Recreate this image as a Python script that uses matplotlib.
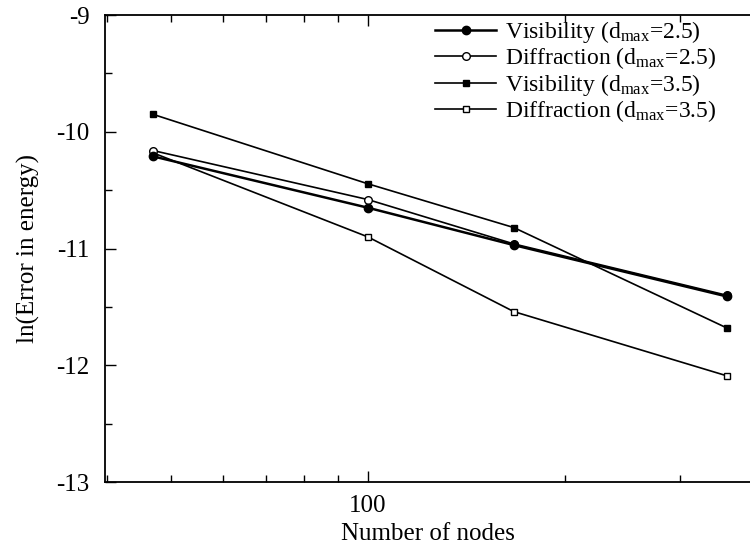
import matplotlib
matplotlib.use('Agg')
import matplotlib.pyplot as plt
from matplotlib.ticker import FixedLocator, NullFormatter

plt.rcParams['font.family'] = ['Liberation Serif', 'DejaVu Serif']
plt.rcParams['mathtext.fontset'] = 'custom'
plt.rcParams['mathtext.rm'] = 'Liberation Serif'
plt.rcParams['mathtext.it'] = 'Liberation Serif:italic'

# values
nodes = [47, 100, 167, 353]
vis_25 = [-10.21, -10.65, -10.97, -11.41]
diff_25 = [-10.16, -10.58, -10.96, -11.40]
vis_35 = [-9.85, -10.445, -10.82, -11.68]
diff_35 = [-10.18, -10.90, -11.54, -12.09]

labels = [r'Visibility (d$_{\rm max}$=2.5)',
          r'Diffraction (d$_{\rm max}$=2.5)',
          r'Visibility (d$_{\rm max}$=3.5)',
          r'Diffraction (d$_{\rm max}$=3.5)']

fig = plt.figure(figsize=(7.5, 5.48), dpi=100)
# frame runs off the right edge of the picture, as in the scan
ax = fig.add_axes([0.14, 0.1204, 0.86, 0.852])

ax.plot(nodes, vis_25, '-', color='black', lw=1.8, marker='o', ms=6, zorder=5, label=labels[0])
ax.plot(nodes, diff_25, '-', color='black', lw=1.2, marker='o', ms=5.5,
        mfc='white', mew=1.0, zorder=4, label=labels[1])
ax.plot(nodes, vis_35, '-', color='black', lw=1.2, marker='s', ms=4, zorder=3, label=labels[2])
ax.plot(nodes, diff_35, '-', color='black', lw=1.2, marker='s', ms=5,
        mfc='white', mew=1.0, zorder=3, label=labels[3])

ax.set_xscale('log')
ax.set_xlim(39.7, 383)
ax.set_ylim(-13, -9)
ax.xaxis.set_major_locator(FixedLocator([100]))
ax.xaxis.set_minor_locator(FixedLocator([40, 50, 60, 70, 80, 90, 200, 300]))
ax.xaxis.set_major_formatter(plt.FixedFormatter(['100']))
ax.xaxis.set_minor_formatter(NullFormatter())
ax.set_yticks([-13, -12, -11, -10, -9])
ax.set_yticklabels(['-13', '-12', '-11', '-10', '-9'])
ax.yaxis.set_minor_locator(FixedLocator([-12.5, -11.5, -10.5, -9.5]))

ax.tick_params(which='both', direction='in', top=True, right=False, labelsize=18,
               width=1.0, color='black')
ax.tick_params(axis='y', which='major', length=8, pad=11)
ax.tick_params(axis='x', which='major', length=8, pad=9)
ax.tick_params(which='minor', length=5)
for s in ax.spines.values():
    s.set_linewidth(1.3)
ax.spines['right'].set_visible(False)

ax.set_xlabel('Number of nodes', fontsize=18, labelpad=5)
ax.set_ylabel('ln(Error in energy)', fontsize=18, labelpad=12)

ax.legend(loc='upper left', bbox_to_anchor=(0.497, 1.012), frameon=False, fontsize=17,
          handlelength=2.6, handletextpad=0.35, labelspacing=0.02, borderaxespad=0)

fig.savefig('out.png', dpi=100)
